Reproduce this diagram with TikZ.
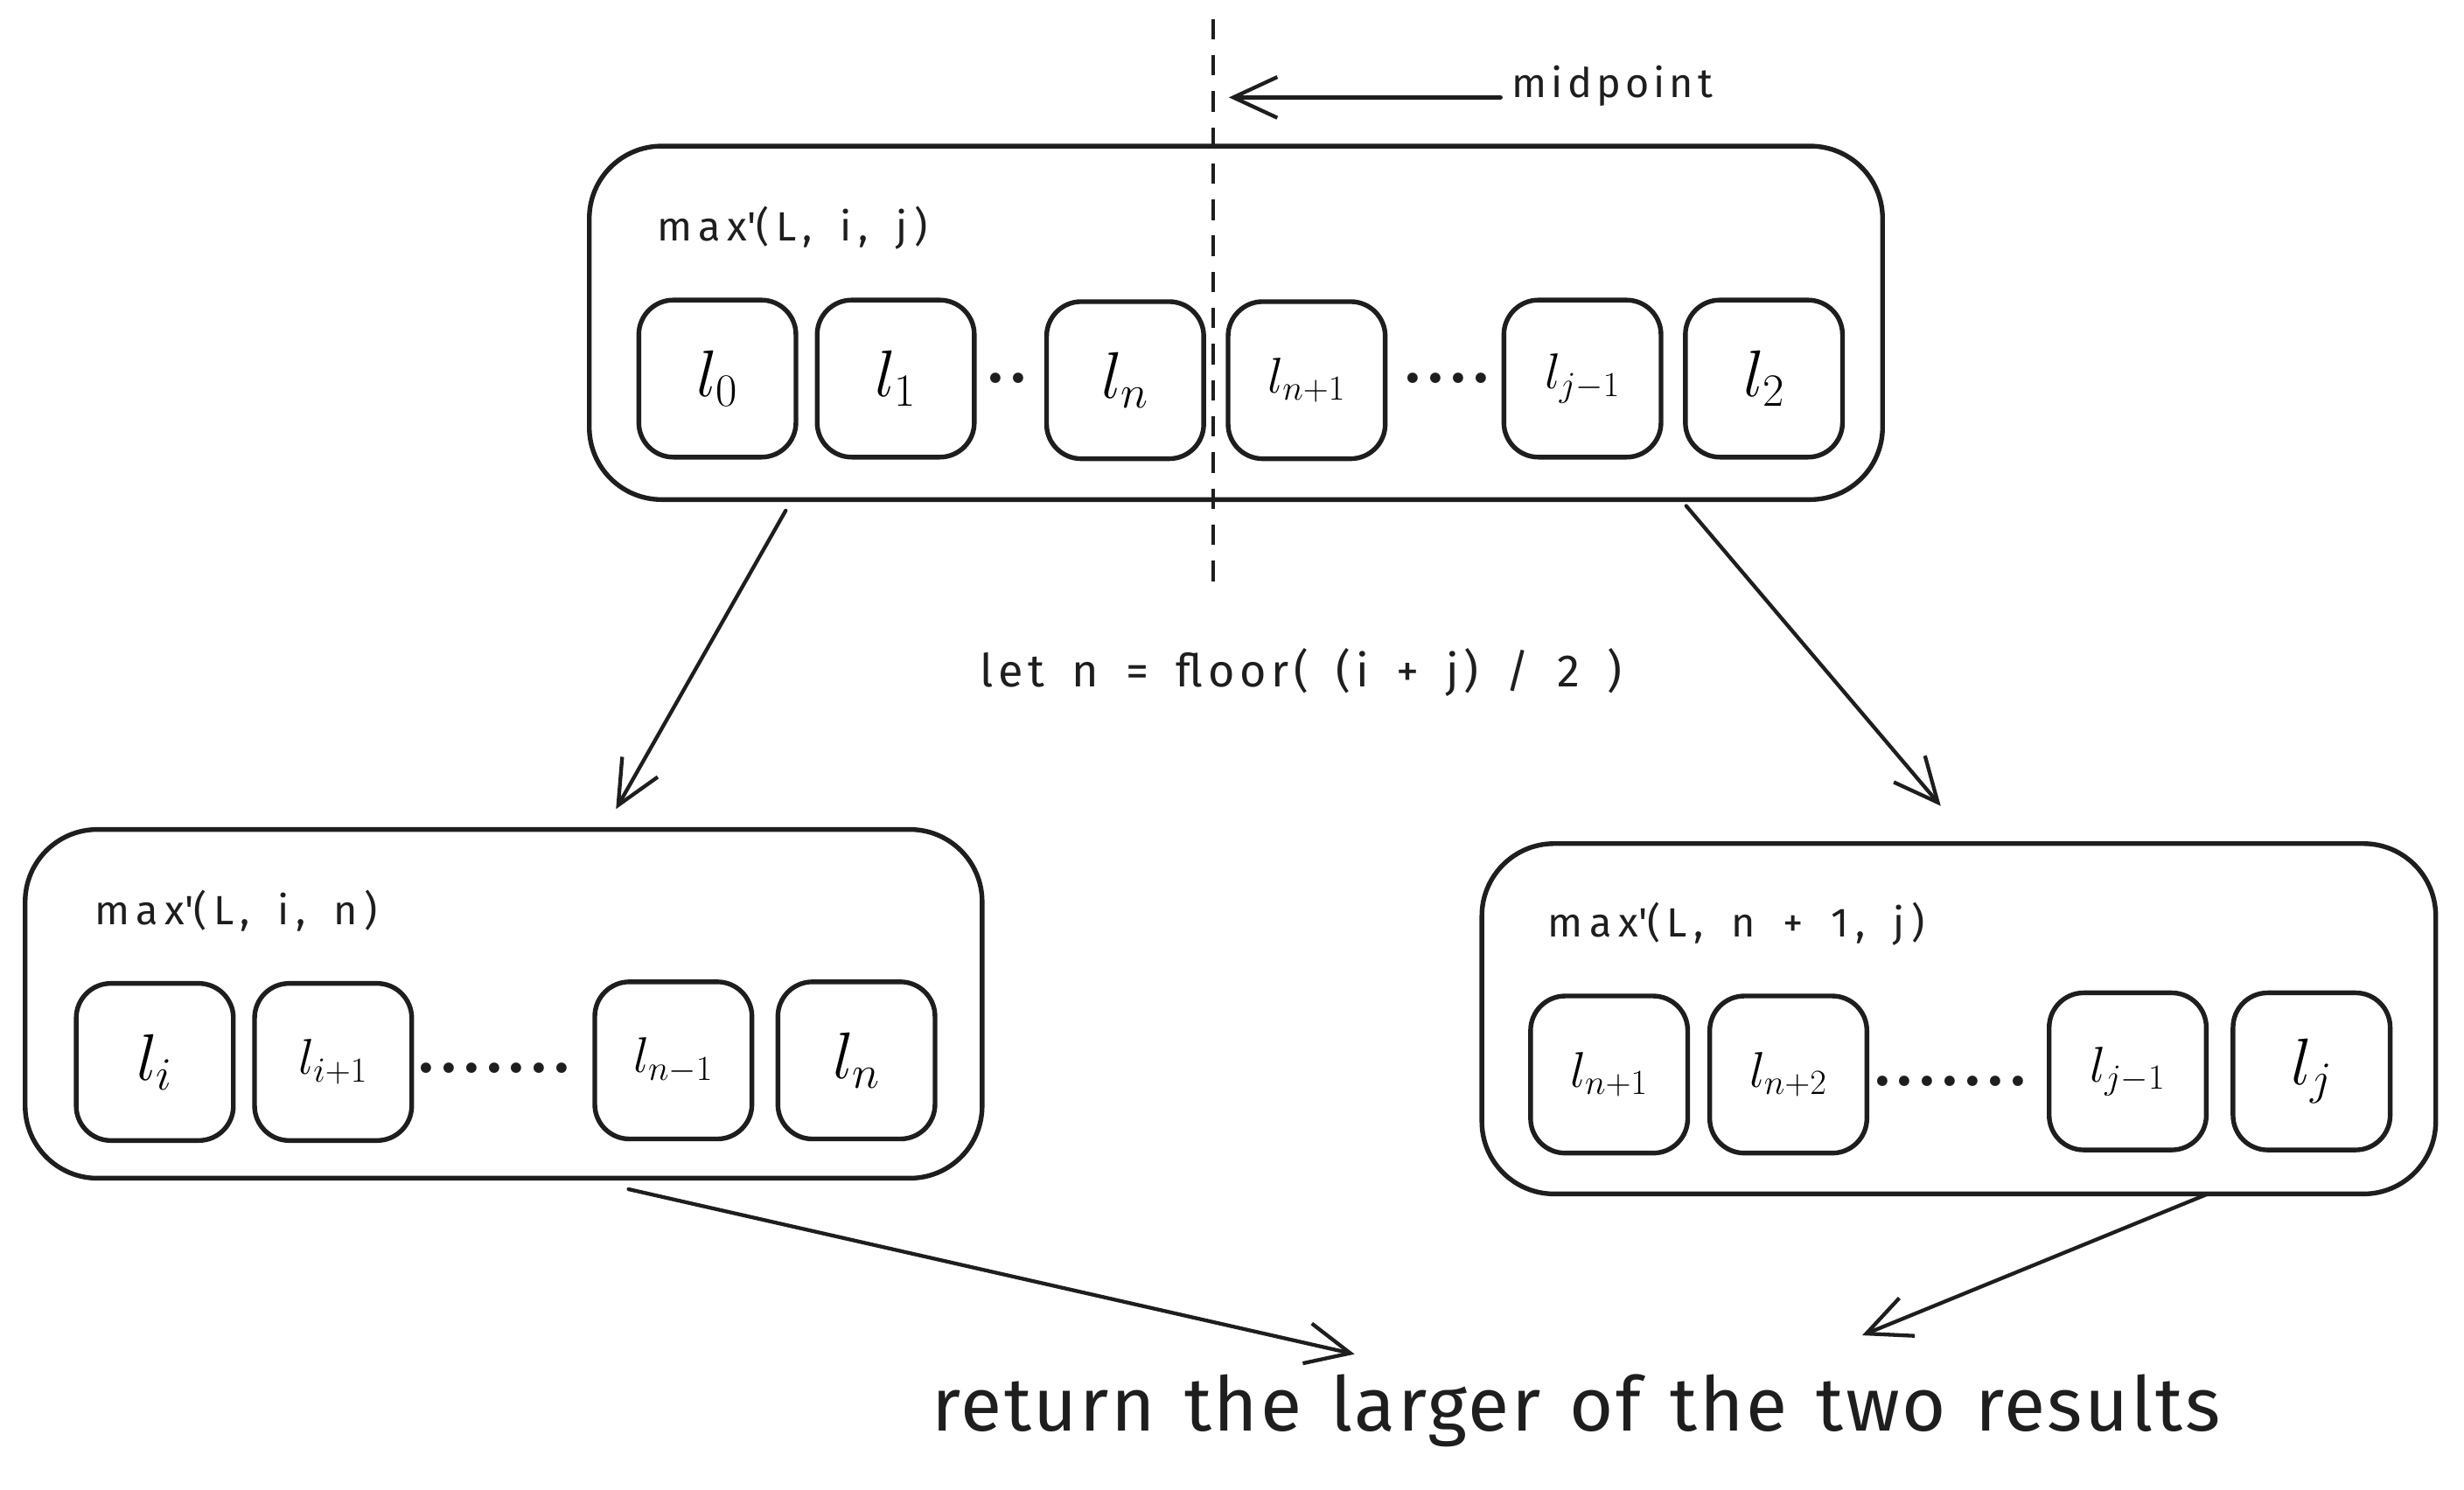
\RequirePackage{fix-cm}
\documentclass[tikz,border=0pt]{standalone}
\usepackage{fontspec}
\newfontfamily\handlbl{Fira Sans}[LetterSpace=16,WordSpace=1.6]
\newfontfamily\handmid{Fira Sans}[LetterSpace=11,WordSpace=1.6]
\newfontfamily\handret{Fira Sans}[LetterSpace=3,WordSpace=1.3]
\usetikzlibrary{arrows.meta}
\definecolor{ink}{HTML}{1E1E1E}
\newcommand\szbig{\fontsize{42}{50}\selectfont}
\newcommand\szsmall{\fontsize{32}{38}\selectfont}
\begin{document}
\begin{tikzpicture}[x=1pt,y=-1pt,
  outerbox/.style={draw=ink, line width=3pt, rounded corners=46pt, inner sep=0pt},
  cell/.style={draw=ink, line width=3pt, rounded corners=22pt, minimum width=100pt, minimum height=100pt, inner sep=0pt},
  dots/.style={text=ink, inner sep=0pt, font=\fontsize{46}{50}\selectfont\bfseries},
  lbl/.style={text=ink, inner sep=0pt, font=\handlbl\fontsize{26}{32}\selectfont},
  conn/.style={draw=ink, line width=2.4pt, line cap=round, -{Straight Barb[length=28pt,width=26pt,line width=2.4pt]}}]
\useasboundingbox (0,0) rectangle (1568,948);

% top box
\node[outerbox, minimum width=823pt, minimum height=225pt] (top) at (786.5,205.5) {};
\node[lbl, anchor=west] (toplbl) at (418,145) {max\textquotesingle(L, i, j)};
\node[cell] (t0) at (456.5,241) {\szbig$l_0$};
\node[cell] (t1) at (570,241) {\szbig$l_1$};
\node[dots] (td1) at (641,241) {..};
\node[cell] (tn) at (716,242) {\szbig$l_n$};
\node[cell] (tn1) at (831.5,242) {\szsmall$l_{n+1}$};
\node[dots] (td2) at (921,241) {....};
\node[cell] (tj1) at (1007,241) {\szsmall$l_{j-1}$};
\node[cell] (t2) at (1122.5,241) {\szbig$l_2$};

% dashed midpoint line
\coordinate (dtop) at (772,12);
\coordinate (dbot) at (772,370);
\draw[ink, line width=2pt, dash pattern=on 13pt off 10pt] (dtop) -- (dbot);
\node[lbl, anchor=base west, font=\handmid\fontsize{26}{32}\selectfont] (mid) at (962,62) {midpoint};
\coordinate (mtip) at (782,62);
\draw[conn] ([xshift=-7pt]mid.base west) -- (mtip);

% middle text
\node[lbl, font=\handmid\fontsize{29}{34}\selectfont] (letn) at (828,428) {let n = floor( (i + j) / 2 )};

% left box
\node[outerbox, minimum width=609pt, minimum height=222pt] (left) at (320.5,639) {};
\node[lbl, anchor=west] (leftlbl) at (60,580) {max\textquotesingle(L, i, n)};
\node[cell] (li) at (98.5,676) {\szbig$l_i$};
\node[cell] (li1) at (212,676) {\szsmall$l_{i+1}$};
\node[dots] (ld) at (314.5,680) {.......};
\node[cell] (ln1) at (428.5,675) {\szsmall$l_{n-1}$};
\node[cell] (ln) at (545,675) {\szbig$l_n$};

% right box
\node[outerbox, minimum width=607pt, minimum height=223pt] (right) at (1246.5,648.5) {};
\node[lbl, anchor=west] (rightlbl) at (985,588) {max\textquotesingle(L, n + 1, j)};
\node[cell] (rn1) at (1024,684) {\szsmall$l_{n+1}$};
\node[cell] (rn2) at (1138,684) {\szsmall$l_{n+2}$};
\node[dots] (rd) at (1241,688) {.......};
\node[cell] (rj1) at (1354,682) {\szsmall$l_{j-1}$};
\node[cell] (rj) at (1471,682) {\szbig$l_j$};

% bottom text
\node[lbl, font=\handret\fontsize{48}{56}\selectfont] (ret) at (1003,898) {return the larger of the two results};

% connectors
\coordinate (a1s) at (500,325); \coordinate (a1e) at (392,515);
\coordinate (a2s) at (1073,322); \coordinate (a2e) at (1235,513);
\coordinate (a3s) at (400,757); \coordinate (a3e) at (862,862);
\coordinate (a4s) at (1405,760); \coordinate (a4e) at (1185,850);
\draw[conn] (a1s) -- (a1e);
\draw[conn] (a2s) -- (a2e);
\draw[conn] (a3s) -- (a3e);
\draw[conn] (a4s) -- (a4e);
\end{tikzpicture}
\end{document}
